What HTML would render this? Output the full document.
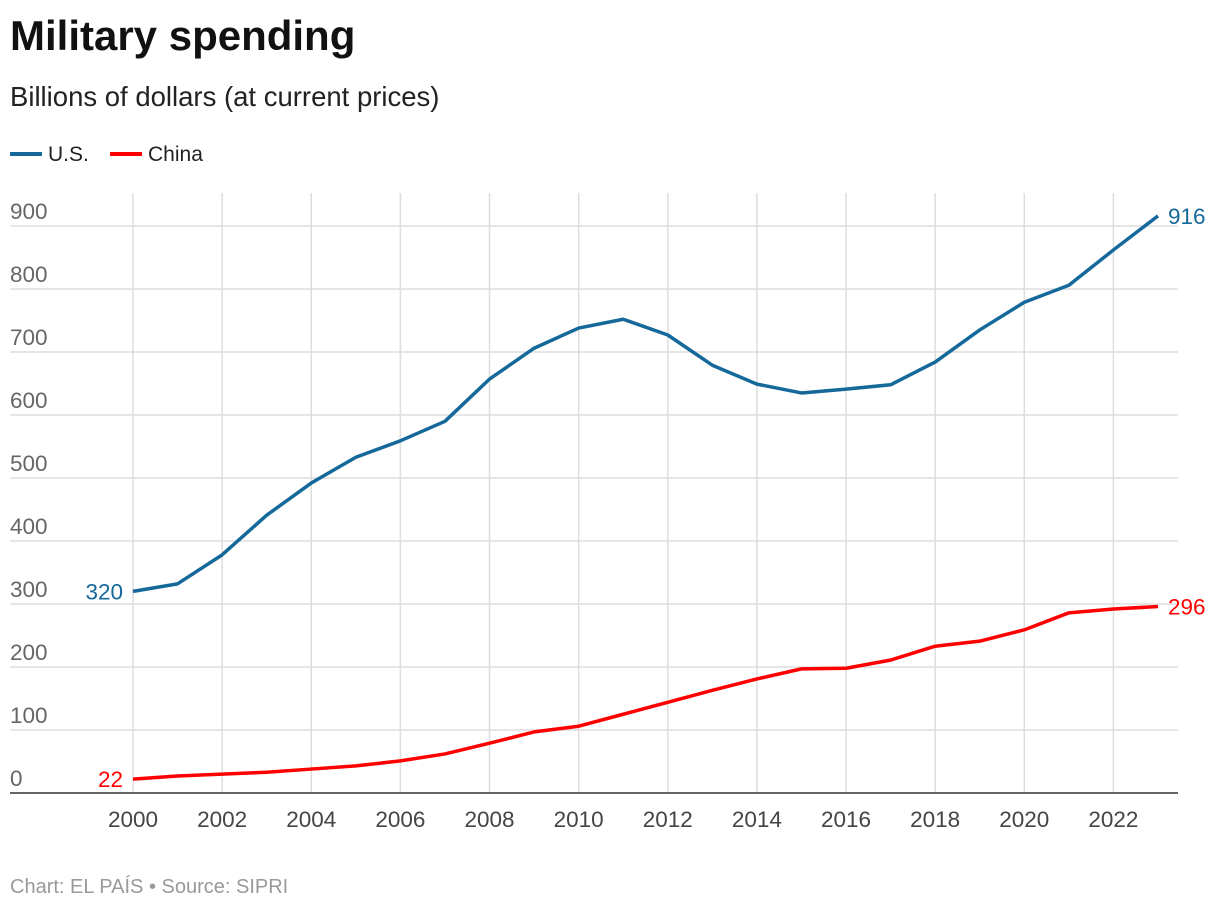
<!DOCTYPE html>
<html><head><meta charset="utf-8"><style>
body{margin:0;background:#fff;font-family:"Liberation Sans",Arial,sans-serif;}
svg{display:block}
</style></head><body>
<svg width="1220" height="910" viewBox="0 0 1220 910">
<text x="10" y="50" font-size="42" font-weight="bold" fill="#111">Military spending</text>
<text x="10" y="106" font-size="27.5" fill="#222">Billions of dollars (at current prices)</text>
<g>
<line x1="10" y1="154" x2="42" y2="154" stroke="#15689a" stroke-width="4"/>
<text x="48" y="161" font-size="21" fill="#222">U.S.</text>
<line x1="110" y1="154" x2="142" y2="154" stroke="#f00" stroke-width="4"/>
<text x="148" y="161" font-size="21" fill="#222">China</text>
</g>
<g id="grid"></g>
<g id="marks"></g>
<text x="10" y="893" font-size="20" fill="#999">Chart: EL PAÍS • Source: SIPRI</text>
</svg>
<script>
const years=[2000,2001,2002,2003,2004,2005,2006,2007,2008,2009,2010,2011,2012,2013,2014,2015,2016,2017,2018,2019,2020,2021,2022,2023];
const usValues=[320,332,378,441,492,533,559,590,657,706,738,752,727,679,649,635,641,648,684,735,779,806,862,916];
const chinaValues=[22,27,30,33,38,43,51,62,79,97,106,125,144,163,181,197,198,211,233,241,259,286,292,296];
const yTicks=[0,100,200,300,400,500,600,700,800,900];
const xTicks=[2000,2002,2004,2006,2008,2010,2012,2014,2016,2018,2020,2022];
const NS="http://www.w3.org/2000/svg";
const x=v=>133+(v-2000)*(1158-133)/23;
const y=v=>793-v*0.63;
function mk(tag,attrs,parent){const e=document.createElementNS(NS,tag);for(const k in attrs)e.setAttribute(k,attrs[k]);parent.appendChild(e);return e;}
const grid=document.getElementById('grid'),marks=document.getElementById('marks');
yTicks.forEach(t=>{
 if(t>0){const l=mk('line',{x1:10,x2:1178,y1:y(t),y2:y(t),stroke:'#ddd','stroke-width':1.5},grid);
 
 }
 const tx=mk('text',{x:10,y:y(t)-7,'font-size':22.5,fill:'#666'},grid);tx.textContent=t;
 
 
});
xTicks.forEach(t=>{
 const l=mk('line',{x1:x(t),x2:x(t),y1:193,y2:793,stroke:'#ddd','stroke-width':1.5},grid);
 
 
 const tx=mk('text',{x:x(t),y:827,'font-size':22.5,fill:'#444','text-anchor':'middle'},grid);tx.textContent=t;
 
 
});
const ax=mk('line',{x1:10,x2:1178,y1:793,y2:793,stroke:'#333','stroke-width':1.5},grid);


function series(vals,color,name){
 const p=mk('polyline',{points:vals.map((v,i)=>x(years[i])+','+y(v)).join(' '),fill:'none',stroke:color,'stroke-width':3.5,'stroke-linejoin':'round'},marks);
 
 
 const a=mk('text',{x:x(years[0])-10,y:y(vals[0])+8,'font-size':22.5,fill:color,'text-anchor':'end'},marks);a.textContent=vals[0];
 
 
 const n=vals.length-1;
 const b=mk('text',{x:x(years[n])+10,y:y(vals[n])+8,'font-size':22.5,fill:color},marks);b.textContent=vals[n];
 
 
}
series(usValues,'#15689a','us');
series(chinaValues,'#f00','china');
</script>
</body></html>
